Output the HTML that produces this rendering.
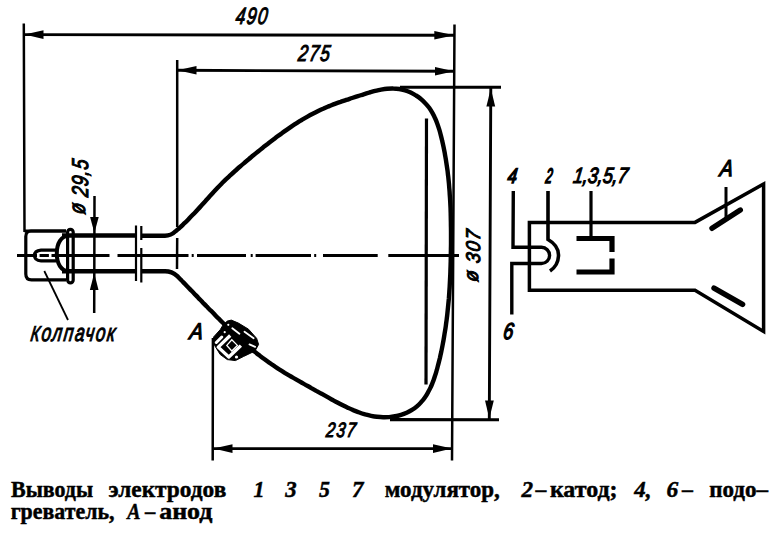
<!DOCTYPE html>
<html><head><meta charset="utf-8"><style>
html,body{margin:0;padding:0;background:#fff;}
body{width:780px;height:534px;position:relative;overflow:hidden;}
svg{position:absolute;left:0;top:0;}
</style></head><body>
<svg width="780" height="534" viewBox="0 0 780 534">
<path d="M142,235.8 L165,235.8 Q171,235.8 175.5,231.3 L175.5,231.3 C177.0,230.0 178.6,228.7 180.1,227.3 C181.6,226.0 183.0,224.6 184.5,223.2 C186.0,221.8 187.4,220.4 188.8,218.9 C190.2,217.5 191.6,216.1 193.0,214.6 C194.4,213.1 195.8,211.7 197.1,210.2 C198.5,208.7 199.9,207.2 201.2,205.7 C202.6,204.2 203.9,202.7 205.3,201.2 C206.6,199.7 208.0,198.2 209.3,196.7 C210.7,195.2 212.0,193.7 213.4,192.2 C214.8,190.8 216.2,189.3 217.6,187.8 C218.9,186.4 220.4,184.9 221.8,183.5 C223.2,182.1 224.6,180.6 226.1,179.2 C227.5,177.8 229.0,176.5 230.5,175.1 C232.0,173.7 233.5,172.3 235.0,171.0 C236.5,169.7 238.0,168.3 239.5,167.0 C241.0,165.7 242.5,164.4 244.1,163.1 C245.6,161.7 247.2,160.4 248.7,159.2 C250.3,157.9 251.8,156.6 253.4,155.3 C255.0,154.0 256.5,152.8 258.1,151.5 C259.7,150.2 261.2,149.0 262.8,147.7 C264.4,146.5 266.0,145.2 267.6,144.0 C269.2,142.7 270.8,141.5 272.4,140.3 C274.0,139.1 275.6,137.8 277.2,136.6 C278.8,135.4 280.4,134.2 282.1,133.1 C283.7,131.9 285.4,130.7 287.0,129.6 C288.7,128.4 290.3,127.3 292.0,126.1 C293.7,125.0 295.4,123.9 297.1,122.8 C298.8,121.7 300.5,120.7 302.2,119.6 C304.0,118.6 305.7,117.6 307.5,116.6 C309.2,115.6 311.0,114.6 312.8,113.7 C314.6,112.8 316.4,111.9 318.2,111.0 C320.0,110.1 321.8,109.3 323.7,108.5 C325.5,107.6 327.4,106.9 329.3,106.1 C331.1,105.4 333.0,104.6 334.9,103.9 C336.8,103.2 338.7,102.5 340.6,101.9 C342.5,101.2 344.4,100.6 346.3,99.9 C348.3,99.3 350.2,98.6 352.1,98.0 C354.0,97.4 355.9,96.8 357.9,96.2 C359.8,95.6 361.7,94.9 363.6,94.3 C365.5,93.7 367.5,93.1 369.4,92.5 C371.3,92.0 373.3,91.4 375.2,90.9 C377.2,90.5 379.2,90.0 381.1,89.6 C383.1,89.3 385.1,89.0 387.1,88.8 C389.1,88.6 391.2,88.4 393.2,88.5 C395.2,88.5 397.2,88.7 399.2,89.0 C401.2,89.3 403.2,89.8 405.1,90.3 C407.0,90.9 408.9,91.7 410.7,92.5 C412.6,93.4 414.3,94.4 416.0,95.5 C417.7,96.5 419.4,97.7 420.9,99.0 C422.5,100.3 423.9,101.7 425.3,103.2 C426.7,104.6 428.0,106.2 429.2,107.8 C430.4,109.5 431.4,111.2 432.4,112.9 C433.4,114.7 434.3,116.5 435.1,118.3 C436.0,120.2 436.7,122.1 437.4,124.0 C438.1,125.9 438.7,127.8 439.3,129.7 C439.9,131.6 440.4,133.6 440.9,135.6 C441.4,137.5 441.9,139.5 442.3,141.4 C442.8,143.4 443.2,145.4 443.6,147.3 C444.0,149.3 444.4,151.3 444.8,153.3 C445.1,155.3 445.5,157.3 445.8,159.2 C446.1,161.2 446.4,163.2 446.7,165.2 C447.0,167.2 447.3,169.2 447.6,171.2 C447.8,173.2 448.0,175.2 448.3,177.2 C448.5,179.2 448.7,181.3 448.9,183.3 C449.1,185.3 449.2,187.3 449.4,189.3 C449.6,191.3 449.7,193.3 449.8,195.3 C450.0,197.3 450.1,199.4 450.2,201.4 C450.3,203.4 450.4,205.4 450.5,207.4 C450.6,209.4 450.6,211.5 450.7,213.5 C450.7,215.5 450.8,217.5 450.8,219.5 C450.9,221.5 450.9,223.6 450.9,225.6 C451.0,227.6 451.0,229.6 451.0,231.6 C451.0,233.6 451.0,235.7 451.0,237.7 C451.0,239.7 451.0,241.7 451.0,243.7 C451.0,245.7 450.9,247.8 450.9,249.8 C450.9,251.8 450.8,253.8 450.8,255.8 C450.8,257.9 450.7,259.9 450.7,261.9 C450.6,263.9 450.6,265.9 450.5,267.9 C450.4,270.0 450.4,272.0 450.3,274.0 C450.2,276.0 450.1,278.0 450.0,280.0 C449.9,282.1 449.8,284.1 449.7,286.1 C449.6,288.1 449.4,290.1 449.3,292.1 C449.2,294.1 449.0,296.1 448.9,298.2 C448.7,300.2 448.5,302.2 448.3,304.2 C448.1,306.2 447.9,308.2 447.7,310.2 C447.5,312.2 447.3,314.2 447.1,316.2 C446.8,318.2 446.6,320.2 446.3,322.2 C446.0,324.2 445.8,326.2 445.5,328.2 C445.2,330.2 444.8,332.2 444.5,334.2 C444.2,336.2 443.9,338.2 443.5,340.2 C443.1,342.2 442.8,344.1 442.4,346.1 C442.0,348.1 441.6,350.1 441.2,352.1 C440.7,354.0 440.3,356.0 439.9,358.0 C439.4,359.9 438.9,361.9 438.4,363.9 C437.9,365.8 437.4,367.8 436.9,369.7 C436.3,371.6 435.8,373.6 435.1,375.5 C434.5,377.4 433.9,379.3 433.2,381.2 C432.4,383.1 431.7,385.0 430.9,386.8 C430.0,388.6 429.1,390.5 428.1,392.2 C427.2,394.0 426.1,395.7 424.9,397.4 C423.8,399.0 422.6,400.6 421.2,402.1 C419.9,403.6 418.4,405.1 416.9,406.4 C415.4,407.7 413.7,408.9 412.0,409.9 C410.3,411.0 408.5,411.9 406.7,412.7 C404.8,413.5 402.9,414.2 401.0,414.8 C399.1,415.4 397.1,415.9 395.1,416.2 C393.1,416.6 391.1,416.9 389.1,417.1 C387.1,417.2 385.1,417.3 383.1,417.2 C381.0,417.2 379.0,417.0 377.0,416.8 C375.0,416.6 373.0,416.2 371.1,415.8 C369.1,415.4 367.1,414.9 365.2,414.4 C363.2,413.8 361.3,413.2 359.4,412.5 C357.5,411.9 355.6,411.1 353.8,410.4 C351.9,409.6 350.0,408.8 348.2,407.9 C346.4,407.1 344.6,406.2 342.8,405.3 C340.9,404.4 339.2,403.5 337.4,402.5 C335.6,401.6 333.8,400.6 332.1,399.7 C330.3,398.7 328.5,397.7 326.8,396.7 C325.0,395.7 323.2,394.7 321.5,393.7 C319.7,392.8 318.0,391.8 316.2,390.8 C314.5,389.8 312.7,388.8 310.9,387.8 C309.2,386.8 307.4,385.9 305.6,384.9 C303.9,383.9 302.1,382.9 300.4,381.9 C298.6,380.9 296.9,379.9 295.1,378.9 C293.4,377.9 291.6,376.9 289.9,375.9 C288.1,374.8 286.4,373.8 284.7,372.8 C283.0,371.7 281.3,370.6 279.6,369.6 C277.8,368.5 276.2,367.4 274.5,366.2 C272.8,365.1 271.1,364.0 269.5,362.8 C267.8,361.7 266.2,360.5 264.6,359.3 C262.9,358.1 261.3,356.9 259.7,355.6 C258.1,354.4 256.6,353.2 255.0,351.9 C253.4,350.6 251.9,349.3 250.3,348.1 C248.8,346.8 247.2,345.4 245.7,344.1 C244.2,342.8 242.7,341.5 241.2,340.1 C239.7,338.8 238.2,337.4 236.7,336.0 C235.2,334.7 233.7,333.3 232.3,331.9 C230.8,330.5 229.3,329.1 227.9,327.7 C226.4,326.3 225.0,324.9 223.6,323.5 C222.1,322.1 220.7,320.7 219.3,319.2 C217.8,317.8 216.4,316.4 215.0,314.9 C213.6,313.5 212.2,312.1 210.8,310.6 C209.3,309.2 207.9,307.7 206.5,306.3 C205.1,304.8 203.7,303.4 202.3,301.9 C200.9,300.5 199.5,299.0 198.1,297.6 C196.7,296.1 195.3,294.7 193.9,293.2 C192.5,291.8 191.1,290.3 189.7,288.9 C188.3,287.4 186.9,286.0 185.5,284.5 C184.1,283.1 182.7,281.6 181.3,280.2 C179.8,278.8 178.4,277.3 177.0,275.9 Q172,271.2 165,271.2 L142,271.2" fill="none" stroke="#000" stroke-width="4.4" stroke-linejoin="round"/>
<path d="M62,235.5 L136,235.5 M62,271.2 L136,271.2" stroke="#000" stroke-width="4.5" fill="none"/>
<path d="M136,225.5 L136,281 M141.3,226 L141.3,240 M141.3,248 L141.3,282.4" stroke="#000" stroke-width="2.2" fill="none"/>
<path d="M17.0,255.5 L109.5,255.5 M117.5,255.5 L188.5,255.5 M191.7,255.5 L193.7,255.5 M197.0,255.5 L246.0,255.5 M250.7,255.5 L252.7,255.5 M255.6,255.5 L311.0,255.5 M314.2,255.5 L316.2,255.5 M323.0,255.5 L377.7,255.5 M388.3,255.5 L459.0,255.5" stroke="#000" stroke-width="3" fill="none"/>
<path d="M426.5,118.5 L426,384.5" stroke="#000" stroke-width="3.2" fill="none"/>
<path d="M23.8,23.5 L24.5,232 M177.2,60 L177.2,227 M177.2,238 L177,269 M454.5,24.5 L452,460.5 M212.9,338 L212.7,460.5 M94.5,196 L94.2,313" stroke="#000" stroke-width="2.5" fill="none"/>
<path d="M400,87.3 L501,87.3 M390,419.6 L499,419.8" stroke="#000" stroke-width="3.1" fill="none"/>
<path d="M24.5,34.6 L454.5,35.3 M177,70.3 L454.5,71.3 M490.8,88 L489.3,419 M213.4,448.6 L452.5,448.6" stroke="#000" stroke-width="2.9" fill="none"/>
<path d="M24.5,34.6 L43.5,30.3 L43.5,38.9 Z" fill="#000"/>
<path d="M454.3,35.3 L434.3,39.6 L434.3,31.0 Z" fill="#000"/>
<path d="M177.5,70.3 L196.5,66.0 L196.5,74.6 Z" fill="#000"/>
<path d="M454.0,71.3 L435.0,75.6 L435.0,67.0 Z" fill="#000"/>
<path d="M490.8,88.5 L495.2,106.5 L486.4,106.5 Z" fill="#000"/>
<path d="M489.3,418.5 L485.0,400.5 L493.8,400.5 Z" fill="#000"/>
<path d="M213.5,448.6 L232.5,444.3 L232.5,452.9 Z" fill="#000"/>
<path d="M452.0,448.6 L433.0,452.9 L433.0,444.3 Z" fill="#000"/>
<path d="M94.4,233.0 L90.1,217.0 L98.7,217.0 Z" fill="#000"/>
<path d="M94.2,273.0 L98.5,290.0 L89.9,290.0 Z" fill="#000"/>
<path d="M24.5,231 L66,231" stroke="#000" stroke-width="3" fill="none"/>
<path d="M66,231 L31,231 Q25.8,231 25.8,236.5 L25.8,274 Q25.8,279.8 31.5,279.8 L66,279.8" stroke="#000" stroke-width="3.2" fill="none"/>
<rect x="67.6" y="229.3" width="5.6" height="53.6" rx="2.8" fill="none" stroke="#000" stroke-width="3.2"/>
<path d="M69,235.8 C61,235.8 56.8,243.5 56.8,253.5 C56.8,263.5 61,271.2 69,271.2" stroke="#000" stroke-width="4" fill="none"/>
<path d="M56,250.2 L41,250.2 Q34.5,250.8 34.5,255.5 Q34.5,260.5 41,260.8 L56,260.8" stroke="#000" stroke-width="3.2" fill="none"/>
<path d="M38.3,253.8 L38.3,257.2 M50.2,253.8 L50.2,257.2" stroke="#fff" stroke-width="2.6" fill="none"/>
<path d="M44.3,271 L68,320" stroke="#000" stroke-width="1.8" fill="none"/>
<path d="M213.6,337 L220.2,329.7 L223,325 L227.3,321.1 L231.3,320.1 L238.4,323.1 L248.5,329.2 L256.6,338.3 L258.6,344.4 L255,351 L243.5,356.5 L235.4,360.6 L227.3,359.6 L220.2,354.5 L214.6,345.4 Z" fill="#000" stroke="#000" stroke-width="1" stroke-linejoin="round"/>
<path d="M230.2,335.5 L218.2,347.1 L228.8,357 L240.9,345.6" fill="none" stroke="#fff" stroke-width="3.3" stroke-linejoin="round"/>
<path d="M216.3,342.5 L221.8,337" fill="none" stroke="#fff" stroke-width="3" stroke-linecap="round"/>
<circle cx="236.5" cy="357" r="1.6" fill="#fff"/>
<path d="M231.8,339.8 L226.8,345.4 L231.8,351 L237.4,345.4 Z" fill="none" stroke="#fff" stroke-width="1.3"/>
<path d="M232.3,328.2 L239.4,333.8 M244.5,331.7 L253.6,338.3 M249.5,344.4 L255.1,346.9" fill="none" stroke="#fff" stroke-width="1.8" stroke-linecap="round"/>
<circle cx="228.3" cy="324.8" r="1.1" fill="#fff"/><circle cx="224.7" cy="332.2" r="1.1" fill="#fff"/>
<path d="M529.4,222.4 L695,222.4 L763.6,184 L763.6,331.5 L695,290.2 L529.4,290.2 Z" fill="none" stroke="#000" stroke-width="3.5" stroke-linejoin="miter"/>
<path d="M513.3,191 L513,247.3 L541.5,247.3 A8.1,8.1 0 0 1 541.5,263.5 L511.8,263.5 L511.8,314.5" fill="none" stroke="#000" stroke-width="3.4"/>
<path d="M548,191 L548,239.5 C556,244 558.8,250 558.5,256 C558.2,263 554.5,268 550,271" fill="none" stroke="#000" stroke-width="3.6"/>
<path d="M591,191 L591,238" fill="none" stroke="#000" stroke-width="3.2"/>
<path d="M576.5,238.5 L612,238.5 L612,252 M612,258.5 L612,272 L576.5,272" fill="none" stroke="#000" stroke-width="5.2"/>
<path d="M726,187 L726,218" fill="none" stroke="#000" stroke-width="3"/>
<path d="M712,228.3 L740.3,210 M714,288.1 L742.6,304.4" fill="none" stroke="#000" stroke-width="5.4" stroke-linecap="round"/>
<text transform="translate(235.00 23.96) skewX(-8.00)" x="0" y="0" font-family="Liberation Sans" font-weight="normal" font-style="italic" font-size="23.63" textLength="32.85" lengthAdjust="spacingAndGlyphs" letter-spacing="2" stroke="#000" stroke-width="1.1">490</text>
<text transform="translate(297.62 60.70) skewX(-8.00)" x="0" y="0" font-family="Liberation Sans" font-weight="normal" font-style="italic" font-size="22.81" textLength="32.87" lengthAdjust="spacingAndGlyphs" letter-spacing="2" stroke="#000" stroke-width="1.1">275</text>
<text transform="translate(325.56 436.58) skewX(-8.00)" x="0" y="0" font-family="Liberation Sans" font-weight="normal" font-style="italic" font-size="20.82" textLength="30.69" lengthAdjust="spacingAndGlyphs" letter-spacing="2" stroke="#000" stroke-width="1.1">237</text>
<text transform="translate(480.02 282.62) rotate(-90) skewX(-8.00)" x="0" y="0" font-family="Liberation Sans" font-weight="normal" font-style="italic" font-size="19.89" textLength="53.22" lengthAdjust="spacingAndGlyphs" letter-spacing="1.5" stroke="#000" stroke-width="1.1"><tspan dy="-2.5">&#248;</tspan><tspan dy="2.5"> 307</tspan></text>
<text transform="translate(87.50 215.06) rotate(-90) skewX(-8.00)" x="0" y="0" font-family="Liberation Sans" font-weight="normal" font-style="italic" font-size="22.93" textLength="55.50" lengthAdjust="spacingAndGlyphs" letter-spacing="1" stroke="#000" stroke-width="1.1"><tspan dy="-2.5">&#248;</tspan><tspan dy="2.5"> 29,5</tspan></text>
<text transform="translate(30.06 340.52) skewX(-8.00)" x="0" y="0" font-family="Liberation Sans" font-weight="normal" font-style="italic" font-size="24.42" textLength="86.11" lengthAdjust="spacingAndGlyphs" letter-spacing="2.5" stroke="#000" stroke-width="1.1"><tspan font-size="88%">К</tspan>олпачок</text>
<text transform="translate(189.04 338.76) skewX(-8.00)" x="0" y="0" font-family="Liberation Sans" font-weight="normal" font-style="italic" font-size="22.65" textLength="13.17" lengthAdjust="spacingAndGlyphs" letter-spacing="0" stroke="#000" stroke-width="1.3">A</text>
<text transform="translate(506.88 183.08) skewX(-8.00)" x="0" y="0" font-family="Liberation Sans" font-weight="normal" font-style="italic" font-size="20.98" textLength="9.22" lengthAdjust="spacingAndGlyphs" letter-spacing="0" stroke="#000" stroke-width="1.5">4</text>
<text transform="translate(545.06 183.08) skewX(-8.00)" x="0" y="0" font-family="Liberation Sans" font-weight="normal" font-style="italic" font-size="20.98" textLength="6.54" lengthAdjust="spacingAndGlyphs" letter-spacing="0" stroke="#000" stroke-width="1.6">2</text>
<text transform="translate(572.38 183.00) skewX(-8.00)" x="0" y="0" font-family="Liberation Sans" font-weight="normal" font-style="italic" font-size="22.07" textLength="54.56" lengthAdjust="spacingAndGlyphs" letter-spacing="0" stroke="#000" stroke-width="1.2">1,3,5,7</text>
<text transform="translate(502.58 338.76) skewX(-8.00)" x="0" y="0" font-family="Liberation Sans" font-weight="normal" font-style="italic" font-size="23.06" textLength="9.97" lengthAdjust="spacingAndGlyphs" letter-spacing="0" stroke="#000" stroke-width="1.4">6</text>
<text transform="translate(719.16 176.14) skewX(-8.00)" x="0" y="0" font-family="Liberation Sans" font-weight="normal" font-style="italic" font-size="22.93" textLength="12.92" lengthAdjust="spacingAndGlyphs" letter-spacing="0" stroke="#000" stroke-width="1.3">A</text>
<text x="11.00" y="496.80" font-family="Liberation Serif" font-weight="bold" font-style="normal" font-size="24" textLength="82.03" lengthAdjust="spacingAndGlyphs" stroke="#000" stroke-width="0.5">Выводы</text>
<text x="108.56" y="496.80" font-family="Liberation Serif" font-weight="bold" font-style="normal" font-size="24" textLength="117.73" lengthAdjust="spacingAndGlyphs" stroke="#000" stroke-width="0.5">электродов</text>
<text x="253.50" y="496.80" font-family="Liberation Serif" font-weight="bold" font-style="italic" font-size="24" textLength="11.00" lengthAdjust="spacingAndGlyphs" stroke="#000" stroke-width="0.5">1</text>
<text x="285.22" y="496.80" font-family="Liberation Serif" font-weight="bold" font-style="italic" font-size="24" textLength="11.39" lengthAdjust="spacingAndGlyphs" stroke="#000" stroke-width="0.5">3</text>
<text x="319.00" y="496.80" font-family="Liberation Serif" font-weight="bold" font-style="italic" font-size="24" textLength="10.92" lengthAdjust="spacingAndGlyphs" stroke="#000" stroke-width="0.5">5</text>
<text x="351.98" y="496.80" font-family="Liberation Serif" font-weight="bold" font-style="italic" font-size="24" textLength="11.45" lengthAdjust="spacingAndGlyphs" stroke="#000" stroke-width="0.5">7</text>
<text x="384.78" y="496.80" font-family="Liberation Serif" font-weight="bold" font-style="normal" font-size="24" textLength="115.05" lengthAdjust="spacingAndGlyphs" stroke="#000" stroke-width="0.5">модулятор,</text>
<text x="521.44" y="496.80" font-family="Liberation Serif" font-weight="bold" font-style="italic" font-size="24" textLength="11.54" lengthAdjust="spacingAndGlyphs" stroke="#000" stroke-width="0.5">2</text>
<text x="535.58" y="496.80" font-family="Liberation Serif" font-weight="bold" font-style="normal" font-size="24" textLength="10.81" lengthAdjust="spacingAndGlyphs" stroke="#000" stroke-width="0.5">–</text>
<text x="549.92" y="496.80" font-family="Liberation Serif" font-weight="bold" font-style="normal" font-size="24" textLength="67.66" lengthAdjust="spacingAndGlyphs" stroke="#000" stroke-width="0.5">катод;</text>
<text x="634.22" y="496.80" font-family="Liberation Serif" font-weight="bold" font-style="italic" font-size="24" textLength="17.17" lengthAdjust="spacingAndGlyphs" stroke="#000" stroke-width="0.5">4,</text>
<text x="666.42" y="496.80" font-family="Liberation Serif" font-weight="bold" font-style="italic" font-size="24" textLength="11.77" lengthAdjust="spacingAndGlyphs" stroke="#000" stroke-width="0.5">6</text>
<text x="681.94" y="496.80" font-family="Liberation Serif" font-weight="bold" font-style="normal" font-size="24" textLength="10.89" lengthAdjust="spacingAndGlyphs" stroke="#000" stroke-width="0.5">–</text>
<text x="709.20" y="496.80" font-family="Liberation Serif" font-weight="bold" font-style="normal" font-size="24" textLength="58.82" lengthAdjust="spacingAndGlyphs" stroke="#000" stroke-width="0.5">подо–</text>
<text x="10.64" y="519.00" font-family="Liberation Serif" font-weight="bold" font-style="normal" font-size="24" textLength="103.88" lengthAdjust="spacingAndGlyphs" stroke="#000" stroke-width="0.5">греватель,</text>
<text x="127.16" y="519.00" font-family="Liberation Serif" font-weight="bold" font-style="italic" font-size="24" textLength="13.28" lengthAdjust="spacingAndGlyphs" stroke="#000" stroke-width="0.5">A</text>
<text x="145.08" y="519.00" font-family="Liberation Serif" font-weight="bold" font-style="normal" font-size="24" textLength="10.26" lengthAdjust="spacingAndGlyphs" stroke="#000" stroke-width="0.5">–</text>
<text x="159.20" y="519.00" font-family="Liberation Serif" font-weight="bold" font-style="normal" font-size="24" textLength="53.28" lengthAdjust="spacingAndGlyphs" stroke="#000" stroke-width="0.5">анод</text>
</svg>


</body></html>
